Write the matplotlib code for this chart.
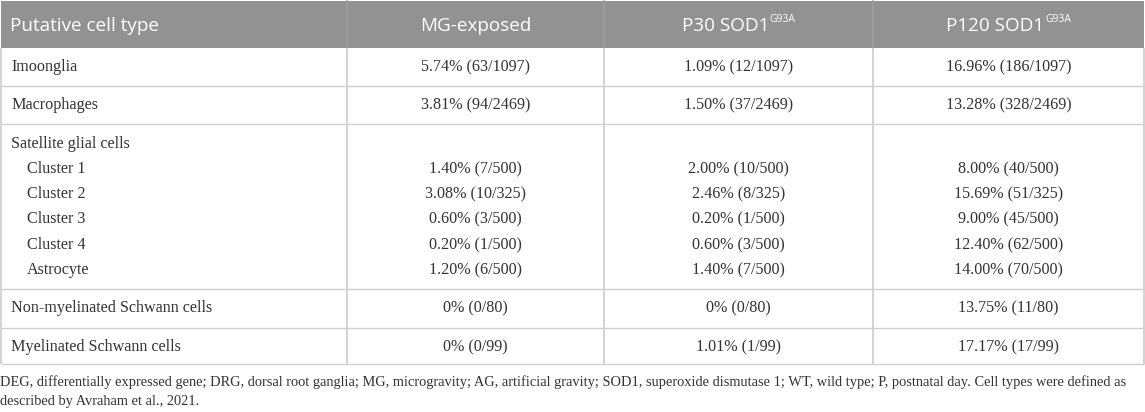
import matplotlib
matplotlib.use("Agg")
import matplotlib.pyplot as plt
from matplotlib.patches import Rectangle

# ---- data ----
headers = ["Putative cell type", "MG-exposed", "P30 SOD1", "P120 SOD1"]
header_sup = ["", "", "G93A", "G93A"]
cell_types = ["Imoonglia", "Macrophages", "Satellite glial cells", "Cluster 1", "Cluster 2",
              "Cluster 3", "Cluster 4", "Astrocyte", "Non-myelinated Schwann cells",
              "Myelinated Schwann cells"]
indented = [False, False, False, True, True, True, True, True, False, False]
totals = [1097, 2469, None, 500, 325, 500, 500, 500, 80, 99]
mg_pct = [5.74, 3.81, None, 1.40, 3.08, 0.60, 0.20, 1.20, 0, 0]
mg_n = [63, 94, None, 7, 10, 3, 1, 6, 0, 0]
p30_pct = [1.09, 1.50, None, 2.00, 2.46, 0.20, 0.60, 1.40, 0, 1.01]
p30_n = [12, 37, None, 10, 8, 1, 3, 7, 0, 1]
p120_pct = [16.96, 13.28, None, 8.00, 15.69, 9.00, 12.40, 14.00, 13.75, 17.17]
p120_n = [186, 328, None, 40, 51, 45, 62, 70, 11, 17]
footnote = ["DEG, differentially expressed gene; DRG, dorsal root ganglia; MG, microgravity; AG, artificial gravity; SOD1, superoxide dismutase 1; WT, wild type; P, postnatal day. Cell types were defined as",
            "described by Avraham et al., 2021."]

def fmt(p, n, t):
    if p is None:
        return ""
    ps = "0%" if p == 0 else f"{p:.2f}%"
    return f"{ps} ({n}/{t})"

# ---- layout (pixel coordinates) ----
W, H = 1145, 412
col_x = [1, 347, 604, 873, 1144]
header_top, header_bot = 1, 48
group_lines = [48, 86, 124, 289, 328, 364]
row_y = [67, 105, 144, 169, 194, 219, 245, 270, 308, 347]

GRID = "#d0d0d0"
HEAD = "#929292"
TXT = "#333333"
SERIF = ["Liberation Serif", "DejaVu Serif"]
SANS = ["Open Sans", "DejaVu Sans"]

fig = plt.figure(figsize=(W / 100, H / 100), dpi=100)
ax = fig.add_axes([0, 0, 1, 1])
ax.set_xlim(0, W)
ax.set_ylim(H, 0)
ax.axis("off")

# header band
ax.add_patch(Rectangle((col_x[0], header_top), col_x[-1] - col_x[0], header_bot - header_top,
                       facecolor=HEAD, edgecolor="none"))
for x in col_x[1:-1]:
    ax.plot([x, x], [header_top, header_bot], color="#9e9e9e", lw=1.2)

# grid lines
for y in group_lines[1:]:
    ax.plot([col_x[0], col_x[-1]], [y, y], color=GRID, lw=1.0, solid_capstyle="butt")
for x in col_x:
    ax.plot([x, x], [header_bot, group_lines[-1]], color=GRID, lw=1.3, solid_capstyle="butt")

# header text
fig.canvas.draw()
renderer = fig.canvas.get_renderer()
hy = 26
hsize = 13.6
ax.text(col_x[0] + 9, hy, headers[0], ha="left", va="center", fontsize=hsize,
        family=SANS, color="white")
for i in range(1, 4):
    cx = (col_x[i] + col_x[i + 1]) / 2
    if header_sup[i]:
        tm = ax.text(0, hy, headers[i], ha="left", va="center", fontsize=hsize,
                     family=SANS, color="white")
        ts = ax.text(0, hy - 7, header_sup[i], ha="left", va="center", fontsize=7.5,
                     family=SANS, color="white")
        wm = tm.get_window_extent(renderer).width
        ws = ts.get_window_extent(renderer).width
        left = cx - (wm + ws) / 2
        tm.set_x(left)
        ts.set_x(left + wm + 0.5)
    else:
        ax.text(cx, hy, headers[i], ha="center", va="center", fontsize=hsize,
                family=SANS, color="white")

# body text
bsize = 11.6
cols = [(mg_pct, mg_n), (p30_pct, p30_n), (p120_pct, p120_n)]
for r, name in enumerate(cell_types):
    y = row_y[r]
    x = col_x[0] + (26 if indented[r] else 10)
    ax.text(x, y, name, ha="left", va="center", fontsize=bsize, family=SERIF, color=TXT)
    for c, (pct, n) in enumerate(cols):
        cx = (col_x[c + 1] + col_x[c + 2]) / 2
        ax.text(cx, y, fmt(pct[r], n[r], totals[r]), ha="center", va="center",
                fontsize=bsize, family=SERIF, color=TXT)

# footnote (first line fitted to target width)
fy = [382, 401]
fsize = 11.0
probe = ax.text(0, fy[0], footnote[0], ha="left", va="center", fontsize=fsize,
                family=SERIF, color=TXT)
wp = probe.get_window_extent(renderer).width
fsize = fsize * 1123 / wp
probe.set_fontsize(fsize)
ax.text(0, fy[1], footnote[1], ha="left", va="center", fontsize=fsize, family=SERIF, color=TXT)

fig.savefig("out.png", dpi=100, facecolor="white")
